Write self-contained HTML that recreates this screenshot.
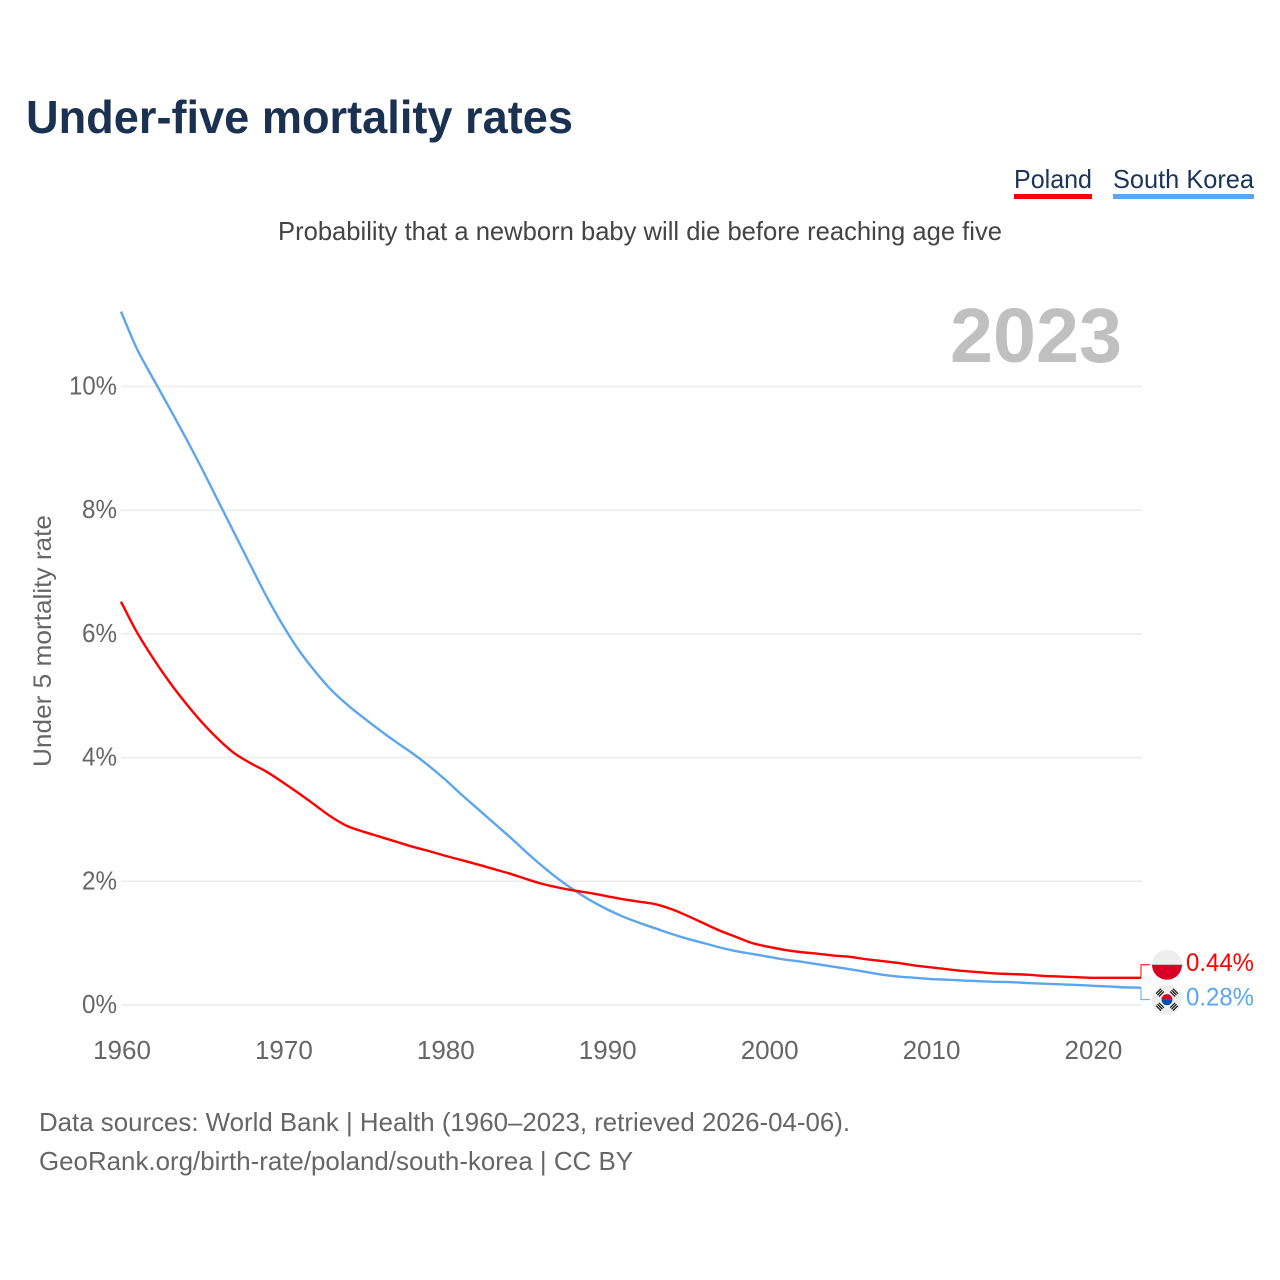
<!DOCTYPE html>
<html lang="en">
<head>
<meta charset="utf-8">
<title>Under-five mortality rates</title>
<style>
html,body{margin:0;padding:0;background:#fff;}
svg{display:block;}
text{font-family:"Liberation Sans",sans-serif;}
</style>
</head>
<body>
<svg id="chart" xmlns="http://www.w3.org/2000/svg" width="1280" height="1280" viewBox="0 0 1280 1280">
  <rect width="1280" height="1280" fill="#ffffff"/>
  <text x="26" y="133" font-size="46" font-weight="700" fill="#1a3151" textLength="547" lengthAdjust="spacingAndGlyphs">Under-five mortality rates</text>
  <g>
    <text x="1014" y="188" font-size="26" fill="#1a3557" textLength="78" lengthAdjust="spacingAndGlyphs">Poland</text>
    <rect x="1014" y="194" width="78" height="5" fill="#ff0000"/>
  </g>
  <g>
    <text x="1113" y="188" font-size="26" fill="#1a3557" textLength="141" lengthAdjust="spacingAndGlyphs">South Korea</text>
    <rect x="1113" y="194" width="141" height="5" fill="#5ba6ee"/>
  </g>
  <text x="278" y="240" font-size="26" fill="#444444" textLength="724" lengthAdjust="spacingAndGlyphs">Probability that a newborn baby will die before reaching age five</text>
  <text x="950" y="362" font-size="77" font-weight="700" fill="#c0c0c0" textLength="172" lengthAdjust="spacingAndGlyphs">2023</text>
  <text transform="translate(51 767) rotate(-90)" font-size="25" fill="#666666" textLength="252" lengthAdjust="spacingAndGlyphs">Under 5 mortality rate</text>
  <g id="grid"></g>
  <g id="yticks"></g>
  <g id="xticks"></g>
  <g id="series"></g>
  <g id="endlabels"></g>
  <text x="39" y="1131" font-size="26" fill="#666666" textLength="811" lengthAdjust="spacingAndGlyphs">Data sources: World Bank | Health (1960–2023, retrieved 2026-04-06).</text>
  <text x="39" y="1170" font-size="26" fill="#666666" textLength="594" lengthAdjust="spacingAndGlyphs">GeoRank.org/birth-rate/poland/south-korea | CC BY</text>
</svg>
<script>
const firstYear = 1960;
const lastYear = 2023;
const xTickYears = [1960, 1970, 1980, 1990, 2000, 2010, 2020];
const yTickValues = [0, 2, 4, 6, 8, 10];
const polandValues = [6.52,6.02,5.60,5.22,4.88,4.57,4.30,4.07,3.91,3.77,3.6,3.42,3.23,3.04,2.89,2.8,2.72,2.64,2.56,2.49,2.415,2.345,2.275,2.20,2.125,2.04,1.96,1.90,1.85,1.81,1.76,1.71,1.67,1.63,1.55,1.44,1.32,1.20,1.10,1.00,0.94,0.89,0.855,0.83,0.80,0.78,0.74,0.71,0.68,0.64,0.61,0.58,0.55,0.53,0.51,0.50,0.49,0.47,0.46,0.45,0.44,0.44,0.44,0.44];
const koreaValues = [11.21,10.60,10.12,9.65,9.17,8.67,8.15,7.63,7.11,6.60,6.14,5.73,5.39,5.09,4.85,4.64,4.44,4.25,4.07,3.87,3.65,3.41,3.18,2.95,2.72,2.48,2.25,2.04,1.855,1.69,1.55,1.43,1.33,1.24,1.15,1.07,1.00,0.93,0.87,0.825,0.78,0.735,0.70,0.66,0.62,0.58,0.535,0.49,0.46,0.44,0.42,0.41,0.395,0.385,0.375,0.37,0.355,0.345,0.335,0.325,0.31,0.30,0.285,0.28];

const NS = 'http://www.w3.org/2000/svg';
const plotLeft = 121, plotRight = 1141, plotZero = 1005, pxPerPercent = 61.85;
const RED = '#ff0000', BLUE = '#5ba6ee';

function xScale(year) {
  return plotLeft + (year - firstYear) * (plotRight - plotLeft) / (lastYear - firstYear);
}
function yScale(value) {
  return plotZero - value * pxPerPercent;
}
function make(tag, attrs, parent, content) {
  const el = document.createElementNS(NS, tag);
  for (const k in attrs) el.setAttribute(k, attrs[k]);
  if (content !== undefined) el.textContent = content;
  parent.appendChild(el);
  return el;
}

const grid = document.getElementById('grid');
const yticks = document.getElementById('yticks');
const xticks = document.getElementById('xticks');
const series = document.getElementById('series');
const endlabels = document.getElementById('endlabels');

yTickValues.forEach(function (v) {
  const line = make('line', {x1: plotLeft, x2: plotRight + 1, y1: yScale(v), y2: yScale(v), stroke: '#ececec', 'stroke-width': 1.5}, grid);
  
  
  const label = v + '%';
  const t = make('text', {x: 117, y: yScale(v) + 8, 'text-anchor': 'end', 'font-size': 26, fill: '#666666', textLength: label.length === 3 ? 48 : 35, lengthAdjust: 'spacingAndGlyphs'}, yticks, label);
  
  
});

xTickYears.forEach(function (yr) {
  const t = make('text', {x: xScale(yr) + 1, y: 1059, 'text-anchor': 'middle', 'font-size': 26, fill: '#666666'}, xticks, String(yr));
  
  
});

/* Monotone cubic path through the yearly values */
function linePath(values) {
  const xs = values.map(function (v, i) { return xScale(firstYear + i); });
  const ys = values.map(yScale);
  const n = xs.length;
  const sl = [];
  for (let i = 0; i < n - 1; i++) sl.push((ys[i + 1] - ys[i]) / (xs[i + 1] - xs[i]));
  const m = [sl[0]];
  for (let i = 1; i < n - 1; i++) {
    m.push(sl[i - 1] * sl[i] <= 0 ? 0 : 2 * sl[i - 1] * sl[i] / (sl[i - 1] + sl[i]));
  }
  m.push(sl[n - 2]);
  let d = 'M' + xs[0].toFixed(2) + ' ' + ys[0].toFixed(2);
  for (let i = 0; i < n - 1; i++) {
    const h = (xs[i + 1] - xs[i]) / 3;
    d += 'C' + (xs[i] + h).toFixed(2) + ' ' + (ys[i] + m[i] * h).toFixed(2) + ' ' +
         (xs[i + 1] - h).toFixed(2) + ' ' + (ys[i + 1] - m[i + 1] * h).toFixed(2) + ' ' +
         xs[i + 1].toFixed(2) + ' ' + ys[i + 1].toFixed(2);
  }
  return d;
}

const koreaLine = make('path', {d: linePath(koreaValues), fill: 'none', stroke: BLUE, 'stroke-width': 2.4, 'stroke-linejoin': 'round'}, series);


const polandLine = make('path', {d: linePath(polandValues), fill: 'none', stroke: RED, 'stroke-width': 2.4, 'stroke-linejoin': 'round'}, series);



/* End labels */
const polandEnd = polandValues[polandValues.length - 1];
const koreaEnd = koreaValues[koreaValues.length - 1];
const polandFlagY = yScale(polandEnd) - 13;
const koreaFlagY = yScale(koreaEnd) + 12;
const flagX = 1167;

const polandConn = make('polyline', {points: plotRight + ',' + yScale(polandEnd) + ' ' + plotRight + ',' + polandFlagY + ' 1150,' + polandFlagY, fill: 'none', stroke: RED, 'stroke-width': 1}, endlabels);


const koreaConn = make('polyline', {points: plotRight + ',' + yScale(koreaEnd) + ' ' + plotRight + ',' + koreaFlagY + ' 1150,' + koreaFlagY, fill: 'none', stroke: BLUE, 'stroke-width': 1}, endlabels);



/* Poland flag */
const plFlag = make('g', {transform: 'translate(' + flagX + ' ' + polandFlagY + ')'}, endlabels);


make('circle', {r: 15, fill: '#eeeeee'}, plFlag);
make('path', {d: 'M-15 0A15 15 0 0 0 15 0Z', fill: '#d80027'}, plFlag);

/* South Korea flag */
const krFlag = make('g', {transform: 'translate(' + flagX + ' ' + koreaFlagY + ')'}, endlabels);


make('circle', {r: 15, fill: '#eeeeee'}, krFlag);
make('path', {d: 'M-5.5 0A5.5 5.5 0 0 1 5.5 0Z', fill: '#d80027'}, krFlag);
make('path', {d: 'M-5.5 0A5.5 5.5 0 0 0 5.5 0Z', fill: '#0052b4'}, krFlag);
[[-45], [45], [135], [225]].forEach(function (a) {
  const g = make('g', {transform: 'rotate(' + a[0] + ') translate(0 -10)'}, krFlag);
  make('rect', {x: -3.5, y: -2.6, width: 7, height: 1.3, fill: '#222222'}, g);
  make('rect', {x: -3.5, y: -0.6, width: 7, height: 1.3, fill: '#222222'}, g);
  make('rect', {x: -3.5, y: 1.4, width: 7, height: 1.3, fill: '#222222'}, g);
});

const plText = make('text', {x: 1186, y: polandFlagY + 6, 'font-size': 25, fill: RED, textLength: 68, lengthAdjust: 'spacingAndGlyphs'}, endlabels, polandEnd.toFixed(2) + '%');


const krText = make('text', {x: 1186, y: koreaFlagY + 6, 'font-size': 25, fill: BLUE, textLength: 68, lengthAdjust: 'spacingAndGlyphs'}, endlabels, koreaEnd.toFixed(2) + '%');


</script>
</body>
</html>
